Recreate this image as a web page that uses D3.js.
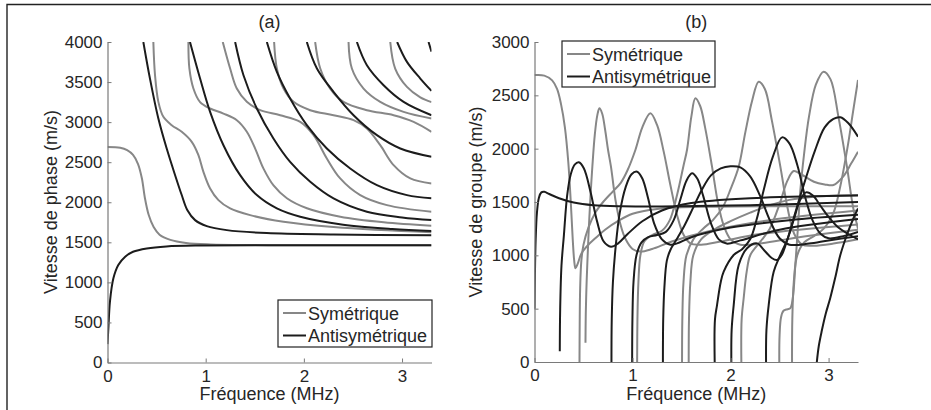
<!DOCTYPE html>
<html><head><meta charset="utf-8">
<script src="https://cdn.jsdelivr.net/npm/d3@7"></script>
<style>body{margin:0;background:#fff}svg{display:block}text{font-family:"Liberation Sans",Arial,sans-serif}</style>
</head><body><svg id="c" width="931" height="410"></svg>
<script>
const freqTicks=[0,1,2,3];
const phaseTicks=[0,500,1000,1500,2000,2500,3000,3500,4000];
const groupTicks=[0,500,1000,1500,2000,2500,3000];
const legendLabels=["Symétrique","Antisymétrique"];
const panelTitles=["(a)","(b)"];
const xTitle="Fréquence (MHz)";
const yTitles=["Vitesse de phase (m/s)","Vitesse de groupe (m/s)"];

// Phase velocity, symmetric modes [f (MHz), v (m/s)]
const phaseSym=[
 [[0,2690],[0.13,2680],[0.2,2650],[0.26,2590],[0.31,2480],[0.35,2300],[0.38,2060],[0.42,1840],[0.47,1690],[0.53,1595],[0.64,1530],[0.8,1492],[1.05,1474],[1.5,1466],[2,1463],[3.3,1462]],
 [[0.467,4000],[0.484,3585],[0.518,3253],[0.569,3066],[0.654,2962],[0.756,2879],[0.858,2754],[0.926,2588],[0.977,2380],[1.045,2172],[1.13,2027],[1.249,1923],[1.453,1839],[1.793,1756],[2.302,1690],[3.3,1625]],
 [[0.824,4000],[0.834,3670],[0.875,3420],[0.943,3250],[1.045,3170],[1.181,3107],[1.317,3024],[1.419,2880],[1.504,2670],[1.589,2420],[1.691,2210],[1.827,2050],[2.031,1925],[2.371,1820],[2.813,1750],[3.3,1706]],
 [[1.174,4000],[1.249,3669],[1.317,3419],[1.419,3253],[1.555,3149],[1.759,3086],[1.963,3003],[2.099,2837],[2.234,2546],[2.37,2297],[2.574,2089],[2.846,1964],[3.3,1881]],
 [[1.697,4000],[1.725,3669],[1.793,3419],[1.895,3253],[2.065,3149],[2.302,3086],[2.506,3024],[2.642,2920],[2.778,2712],[2.914,2463],[3.084,2297],[3.3,2234]],
 [[2.115,4000],[2.167,3669],[2.268,3419],[2.404,3253],[2.642,3149],[2.914,3086],[3.118,3003],[3.3,2879]],
 [[2.455,4000],[2.489,3669],[2.608,3419],[2.778,3253],[3.016,3128],[3.3,3045]],
 [[2.88,4000],[2.93,3669],[3.05,3440],[3.186,3310],[3.3,3250]]
];
// Phase velocity, antisymmetric modes
const phaseAnti=[
 [[0,230],[0.01,450],[0.025,760],[0.06,1050],[0.11,1216],[0.18,1320],[0.26,1382],[0.4,1424],[0.6,1449],[0.94,1460],[3.3,1462]],
 [[0.365,4000],[0.433,3540],[0.518,3045],[0.603,2670],[0.688,2340],[0.756,2090],[0.814,1900],[0.892,1777],[1.011,1702],[1.215,1652],[1.622,1615],[2.302,1598],[3.3,1588]],
 [[0.84,4000],[0.943,3544],[1.045,3128],[1.181,2712],[1.351,2338],[1.521,2089],[1.725,1923],[1.963,1819],[2.4,1720],[2.9,1665],[3.3,1640]],
 [[1.3,4000],[1.385,3585],[1.521,3170],[1.69,2796],[1.86,2504],[2.065,2255],[2.302,2047],[2.642,1881],[3.0,1810],[3.3,1777]],
 [[1.623,4000],[1.725,3627],[1.86,3294],[2.03,2962],[2.234,2671],[2.472,2421],[2.744,2213],[3.05,2089],[3.3,2050]],
 [[2.03,4000],[2.133,3669],[2.302,3378],[2.506,3086],[2.744,2837],[2.982,2671],[3.3,2567]],
 [[2.54,4000],[2.642,3710],[2.812,3461],[3.016,3253],[3.3,3086]],
 [[2.95,4000],[3.05,3752],[3.186,3544],[3.3,3390]],
 [[3.27,4000],[3.3,3880]]
];
// Group velocity, symmetric modes
const groupSym=[
 [[0,2690],[0.1,2685],[0.18,2640],[0.23,2560],[0.27,2420],[0.31,2200],[0.345,1870],[0.37,1500],[0.39,1150],[0.405,950],[0.418,878],[0.44,920],[0.48,1020],[0.54,1090],[0.62,1160],[0.72,1240],[0.85,1320],[1.0,1390],[1.25,1435],[1.7,1455],[3.3,1460]],
 [[0.52,180],[0.523,450],[0.53,700],[0.54,950],[0.554,1250],[0.571,1550],[0.59,1830],[0.615,2130],[0.64,2310],[0.662,2378],[0.69,2330],[0.72,2180],[0.75,1990],[0.78,1831],[0.826,1519],[0.877,1290],[0.93,1150],[1.0,1060],[1.08,1035],[1.2,1060],[1.4,1130],[1.8,1230],[2.4,1330],[3.3,1420]],
 [[0.459,0],[0.461,350],[0.466,700],[0.478,950],[0.5,1100],[0.55,1260],[0.62,1400],[0.7,1500],[0.8,1600],[0.88,1680],[0.95,1800],[1.03,1990],[1.1,2200],[1.182,2331],[1.25,2222],[1.318,1972],[1.386,1659],[1.454,1378],[1.522,1190],[1.59,1112],[1.7,1100],[1.9,1130],[2.3,1200],[3.3,1290]],
 [[1.047,0],[1.05,400],[1.06,750],[1.08,1000],[1.12,1130],[1.2,1190],[1.3,1230],[1.38,1330],[1.454,1566],[1.52,1840],[1.556,1990],[1.6,2300],[1.641,2472],[1.69,2400],[1.74,2200],[1.811,1831],[1.87,1500],[1.93,1280],[2.0,1150],[2.1,1100],[2.3,1110],[2.7,1170],[3.3,1240]],
 [[1.505,0],[1.508,400],[1.52,750],[1.55,1000],[1.62,1150],[1.72,1250],[1.82,1330],[1.92,1450],[2.0,1620],[2.083,1831],[2.15,2150],[2.22,2450],[2.287,2628],[2.35,2560],[2.42,2270],[2.508,1831],[2.58,1450],[2.65,1200],[2.73,1100],[2.85,1090],[3.05,1110],[3.3,1150]],
 [[1.573,0],[1.576,400],[1.59,750],[1.62,1000],[1.7,1150],[1.85,1250],[2.0,1320],[2.2,1400],[2.4,1470],[2.6,1520],[2.85,1550],[3.3,1565]],
 [[2.11,0],[2.113,400],[2.134,600],[2.165,850],[2.202,1003],[2.304,1128],[2.4,1250],[2.5,1480],[2.58,1700],[2.644,1790],[2.72,1760],[2.85,1690],[2.96,1665],[3.05,1659],[3.15,1740],[3.23,1860],[3.3,1972]],
 [[2.497,0],[2.5,250],[2.515,420],[2.54,480],[2.58,495],[2.61,505],[2.635,600],[2.66,900],[2.69,1300],[2.711,1600],[2.75,1950],[2.8,2300],[2.87,2600],[2.949,2722],[3.02,2650],[3.1,2300],[3.187,1831],[3.25,1450],[3.3,1250]],
 [[2.627,0],[2.63,400],[2.645,750],[2.68,1000],[2.75,1120],[2.85,1180],[2.95,1250],[3.05,1400],[3.12,1650],[3.2,2050],[3.25,2350],[3.3,2644]]
];
// Group velocity, antisymmetric modes
const groupAnti=[
 [[0,500],[0.004,800],[0.012,1150],[0.025,1400],[0.045,1540],[0.07,1590],[0.1,1595],[0.15,1575],[0.25,1535],[0.4,1495],[0.6,1470],[0.9,1460],[1.3,1458],[2.2,1470],[3.3,1500]],
 [[0.258,100],[0.262,500],[0.275,900],[0.3,1190],[0.333,1560],[0.37,1760],[0.41,1850],[0.452,1872],[0.503,1816],[0.571,1597],[0.639,1316],[0.707,1128],[0.78,1081],[0.85,1110],[0.95,1200],[1.1,1320],[1.3,1420],[1.6,1490],[2.2,1535],[3.3,1560]],
 [[0.785,0],[0.788,400],[0.8,750],[0.83,1100],[0.87,1400],[0.93,1640],[0.99,1760],[1.047,1784],[1.1,1720],[1.16,1530],[1.22,1300],[1.3,1150],[1.386,1100],[1.454,1112],[1.6,1170],[2.0,1260],[2.6,1330],[3.3,1380]],
 [[0.996,0],[0.999,400],[1.01,750],[1.04,1000],[1.09,1120],[1.16,1170],[1.25,1190],[1.34,1220],[1.42,1330],[1.49,1530],[1.55,1700],[1.607,1769],[1.66,1720],[1.72,1560],[1.8,1300],[1.88,1150],[1.96,1110],[2.1,1140],[2.5,1240],[3.3,1340]],
 [[1.31,0],[1.313,400],[1.325,700],[1.35,950],[1.386,1050],[1.45,1150],[1.53,1280],[1.62,1450],[1.71,1620],[1.8,1750],[1.9,1815],[2.0,1835],[2.1,1825],[2.2,1740],[2.3,1560],[2.4,1330],[2.5,1160],[2.6,1100],[2.8,1110],[3.0,1140],[3.3,1180]],
 [[1.838,0],[1.841,400],[1.862,534],[1.9,750],[1.93,847],[2.032,1003],[2.12,1060],[2.2,1150],[2.27,1350],[2.34,1620],[2.43,1920],[2.525,2106],[2.6,2050],[2.68,1850],[2.76,1550],[2.84,1320],[2.92,1200],[3.0,1160],[3.15,1180],[3.3,1220]],
 [[2.008,0],[2.011,300],[2.032,534],[2.083,909],[2.168,1066],[2.27,1112],[2.34,1050],[2.42,975],[2.474,956],[2.52,1000],[2.58,1150],[2.66,1400],[2.76,1700],[2.86,1980],[2.96,2200],[3.05,2280],[3.12,2294],[3.2,2240],[3.3,2112]],
 [[2.362,0],[2.366,300],[2.389,534],[2.44,847],[2.508,1003],[2.58,1150],[2.65,1350],[2.71,1520],[2.77,1590],[2.84,1560],[2.92,1460],[3.0,1360],[3.1,1260],[3.2,1200],[3.3,1150]],
 [[2.88,0],[2.9,150],[2.93,290],[2.97,450],[3.017,600],[3.07,800],[3.119,1000],[3.19,1200],[3.255,1350],[3.3,1440]]
];

const GRAY="#878787", BLACK="#1c1c1c", AX="#7a7a7a", TXT="#262626";
const svg=d3.select("#c");

// figure frame (top and left border)
svg.append("path").attr("d","M7,410V4.5H931").attr("fill","none").attr("stroke","#222").attr("stroke-width",1.4);

function panel(o){
  const x=d3.scaleLinear().domain([0,3.3]).range(o.xr);
  const y=d3.scaleLinear().domain([0,o.ymax]).range(o.yr);
  const g=svg.append("g");
  const cid="clip"+o.id;
  g.append("clipPath").attr("id",cid).append("rect")
    .attr("x",o.xr[0]).attr("y",o.yr[1]).attr("width",o.xr[1]-o.xr[0]).attr("height",o.yr[0]-o.yr[1]);
  const line=d3.line().x(d=>x(d[0])).y(d=>y(d[1])).curve(d3.curveCatmullRom.alpha(0.5));
  const cg=g.append("g").attr("clip-path",`url(#${cid})`);
  o.sym.forEach(s=>cg.append("path").attr("d",line(s)).attr("fill","none").attr("stroke",GRAY).attr("stroke-width",2));
  o.anti.forEach(s=>cg.append("path").attr("d",line(s)).attr("fill","none").attr("stroke",BLACK).attr("stroke-width",2));

  const xa=g.append("g").attr("transform",`translate(0,${o.yr[0]})`)
    .call(d3.axisBottom(x).tickValues(freqTicks).tickFormat(d3.format("d")).tickSizeInner(-4).tickSizeOuter(0).tickPadding(7));
  const ya=g.append("g").attr("transform",`translate(${o.xr[0]},0)`)
    .call(d3.axisLeft(y).tickValues(o.yt).tickFormat(d3.format("d")).tickSizeInner(-4).tickSizeOuter(0).tickPadding(5));
  [xa,ya].forEach(a=>{
    a.select(".domain").attr("stroke",AX).attr("stroke-width",1.2);
    a.selectAll(".tick line").attr("stroke",AX);
    a.selectAll(".tick text").attr("fill",TXT).style("font-size","17px").style("font-family","'Liberation Sans',Arial,sans-serif");
  });
  g.append("text").attr("x",(o.xr[0]+o.xr[1])/2).attr("y",28).attr("text-anchor","middle")
    .style("font-size","18px").attr("fill",TXT).text(o.title);
  g.append("text").attr("x",(o.xr[0]+o.xr[1])/2).attr("y",400).attr("text-anchor","middle")
    .style("font-size","18px").attr("fill",TXT).text(xTitle);
  g.append("text").attr("transform",`translate(${o.ylx},202) rotate(-90)`).attr("text-anchor","middle")
    .style("font-size","18px").attr("fill",TXT).text(o.ytitle);

  const L=o.leg;
  g.append("rect").attr("x",L.x).attr("y",L.y).attr("width",L.w).attr("height",L.h)
    .attr("fill","#fff").attr("stroke","#222").attr("stroke-width",1.2);
  [GRAY,BLACK].forEach((c,i)=>{
    const yy=L.y+13+i*22.5;
    g.append("line").attr("x1",L.x+5).attr("x2",L.x+28).attr("y1",yy).attr("y2",yy).attr("stroke",c).attr("stroke-width",2);
    g.append("text").attr("x",L.x+30).attr("y",yy+6.5).style("font-size","18px").attr("fill",TXT).text(legendLabels[i]);
  });
}

panel({id:"a",xr:[107.5,431.5],yr:[362.5,42],ymax:4000,yt:phaseTicks,sym:phaseSym,anti:phaseAnti,
  title:panelTitles[0],ytitle:yTitles[0],ylx:57,leg:{x:278,y:300,w:154,h:47}});
panel({id:"b",xr:[534.5,858],yr:[362,42],ymax:3000,yt:groupTicks,sym:groupSym,anti:groupAnti,
  title:panelTitles[1],ytitle:yTitles[1],ylx:482,leg:{x:562,y:41,w:153,h:46}});
</script></body></html>
